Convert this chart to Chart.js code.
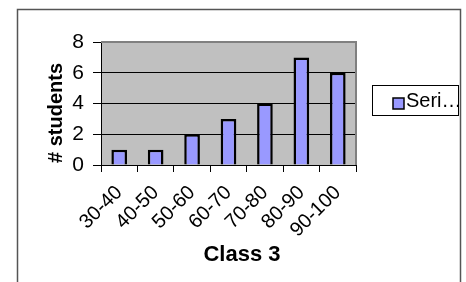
<!DOCTYPE html>
<html>
<head>
<meta charset="utf-8">
<script src="https://cdn.jsdelivr.net/npm/chart.js@4"></script>
<style>
  body { margin: 0; background: #fff; }
</style>
</head>
<body>
<canvas id="myChart" width="466" height="282"></canvas>
<script>
const labels = ['30-40', '40-50', '50-60', '60-70', '70-80', '80-90', '90-100'];
const students = [1, 1, 2, 3, 4, 7, 6];
const yTicks = [0, 2, 4, 6, 8];
const seriesName = 'Series1';
const xTitle = 'Class 3';
const yTitle = '# students';

const fontFamily = "'Liberation Sans', Arial, sans-serif";

// grey plot area, outer frame, axis titles and the boxed legend (old Excel look)
const excelLook = {
  id: 'excelLook',
  beforeDraw(chart) {
    const {ctx, chartArea: a} = chart;
    ctx.save();
    ctx.fillStyle = '#c0c0c0';
    ctx.fillRect(a.left, a.top, a.right - a.left, a.bottom - a.top);
    ctx.restore();
  },
  afterDraw(chart) {
    const {ctx, chartArea: a} = chart;
    ctx.save();
    // plot border top + right
    ctx.strokeStyle = '#808080';
    ctx.lineWidth = 2;
    ctx.beginPath();
    ctx.moveTo(a.left, a.top);
    ctx.lineTo(a.right, a.top);
    ctx.lineTo(a.right, a.bottom);
    ctx.stroke();

    // outer frame
    ctx.strokeStyle = '#555';
    ctx.lineWidth = 1.5;
    ctx.strokeRect(17.5, 9.5, 443, 300);

    // axis titles, excel puts them a bit off the plot centre
    ctx.fillStyle = '#000';
    ctx.textAlign = 'center';
    ctx.textBaseline = 'middle';
    ctx.font = 'bold 22px ' + fontFamily;
    ctx.fillText(xTitle, 242, 255);
    ctx.save();
    ctx.translate(56, 113);
    ctx.rotate(-Math.PI / 2);
    ctx.font = 'bold 20px ' + fontFamily;
    ctx.fillText(yTitle, 0, 0);
    ctx.restore();

    // legend
    const ds = chart.data.datasets[0];
    ctx.fillStyle = '#fff';
    ctx.fillRect(372, 85, 86, 30);
    ctx.strokeStyle = '#000';
    ctx.lineWidth = 1;
    ctx.strokeRect(372.5, 85.5, 86, 30);
    ctx.fillStyle = ds.backgroundColor;
    ctx.fillRect(393, 98, 11, 11);
    ctx.lineWidth = 1.5;
    ctx.strokeRect(393, 98, 11, 11);
    ctx.fillStyle = '#000';
    ctx.font = '20px ' + fontFamily;
    ctx.textAlign = 'left';
    ctx.fillText(ds.label.slice(0, 4) + '\u2026', 406, 101);
    ctx.restore();
  }
};

const data = {
  labels: labels,
  datasets: [{
    label: seriesName,
    data: students,
    backgroundColor: '#9999ff',
    borderColor: '#000',
    borderWidth: 2.5,
    categoryPercentage: 1,
    barPercentage: 0.43,
  }]
};

const config = {
  type: 'bar',
  data: data,
  plugins: [excelLook],
  options: {
    responsive: false,
    animation: false,
    layout: { padding: { left: 40, top: 42, right: 110, bottom: 10 } },
    plugins: {
      legend: { display: false },
      tooltip: { enabled: false }
    },
    scales: {
      x: {
        afterFit(scale) { scale.height = 107; },
        grid: { drawOnChartArea: false, offset: true, color: '#000', tickLength: 7 },
        border: { color: '#000', width: 1 },
        ticks: {
          color: '#000', font: { family: fontFamily, size: 20 },
          minRotation: 45, maxRotation: 45, autoSkip: false, padding: 9
        }
      },
      y: {
        min: 0,
        max: 8,
        afterFit(scale) { scale.width = 61; },
        afterBuildTicks(scale) { scale.ticks = yTicks.map(v => ({ value: v })); },
        grid: { color: '#000', tickLength: 8 },
        border: { color: '#000', width: 1 },
        ticks: { color: '#000', font: { family: fontFamily, size: 21 }, padding: 9 }
      }
    }
  }
};

const myChart = new Chart(document.getElementById('myChart'), config);
</script>
</body>
</html>
